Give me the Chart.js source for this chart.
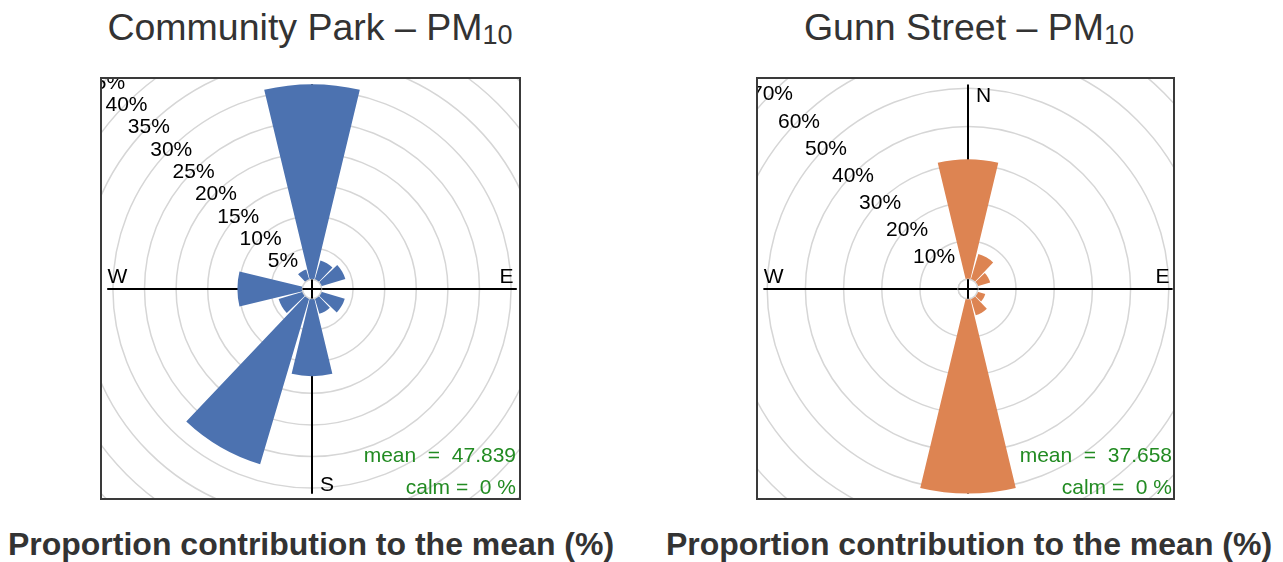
<!DOCTYPE html>
<html><head><meta charset="utf-8">
<script src="https://cdn.jsdelivr.net/npm/chart.js@4.4.1/dist/chart.umd.min.js"></script>
<style>
html,body{margin:0;padding:0;background:#fff;}
body{width:1283px;height:562px;overflow:hidden;position:relative;font-family:"Liberation Sans",Arial,Helvetica,sans-serif;}
.title{position:absolute;top:9px;width:600px;text-align:center;font-size:37.5px;line-height:37px;color:#333;white-space:nowrap;}
.title sub{font-size:27px;vertical-align:baseline;position:relative;top:4px;}
.xlab{position:absolute;top:528px;width:660px;text-align:center;font-size:32px;line-height:32px;font-weight:bold;color:#333;white-space:nowrap;}
.box{position:absolute;top:77px;height:423px;box-sizing:border-box;border:2px solid #3a3a3a;overflow:hidden;background:#fff;}
.box canvas{position:absolute;}
</style></head>
<body>
<div class="title" style="left:10px">Community Park – PM<sub>10</sub></div>
<div class="title" style="left:669px">Gunn Street – PM<sub>10</sub></div>
<div class="box" style="left:100px;width:421px"><canvas id="park" width="600" height="600"></canvas></div>
<div class="box" style="left:756px;width:419px"><canvas id="gunn" width="600" height="600"></canvas></div>
<div class="xlab" style="left:-19px">Proportion contribution to the mean (%)</div>
<div class="xlab" style="left:639px">Proportion contribution to the mean (%)</div>
<script>
// ---- data ----
const directions = [0, 30, 60, 90, 120, 150, 180, 210, 240, 270, 300, 330];
const parkValues = [30.9, 3.2, 4.0, 0, 3.9, 2.6, 12.3, 27.4, 4.0, 10.3, 0, 1.7];
const gunnValues = [31.4, 7.0, 3.5, 0, 2.15, 4.6, 51.0, 0, 0, 0, 0, 0];
const parkTicks = [5, 10, 15, 20, 25, 30, 35, 40, 45];
const gunnTicks = [10, 20, 30, 40, 50, 60, 70];
const parkMean = "47.839";
const gunnMean = "37.658";
const parkCalm = "0";
const gunnCalm = "0";
const compass = ["N", "E", "S", "W"];

// ---- style ----
const SIZE = 600;
const WEDGE = 27, GAP = 3;
const FONT = '"Liberation Sans", Arial, Helvetica, sans-serif';

const rosePlugin = {
  id: 'rose',
  beforeDatasetsDraw(chart, args, o) {
    const s = chart.scales.r, ctx = chart.ctx;
    const cx = s.xCenter, cy = s.yCenter;
    const L = s.getDistanceFromCenterForValue(o.axisMax);
    ctx.save();
    ctx.strokeStyle = '#000'; ctx.lineWidth = 2;
    ctx.beginPath();
    ctx.moveTo(cx - L, cy); ctx.lineTo(cx + L, cy);
    ctx.moveTo(cx, cy - L); ctx.lineTo(cx, cy + L);
    ctx.stroke();
    ctx.fillStyle = '#000';
    ctx.font = '21px ' + FONT;
    const R = L * 0.95;
    ctx.textBaseline = 'alphabetic';
    ctx.textAlign = 'left';
    ctx.fillText(compass[0], cx + 8, cy - R + 7.5);
    ctx.fillText(compass[2], cx + 8, cy + R + 7.5);
    ctx.textAlign = 'center';
    ctx.fillText(compass[1], cx + R, cy - 6);
    ctx.fillText(compass[3], cx - R, cy - 6);
    ctx.restore();
  },
  afterDatasetsDraw(chart, args, o) {
    const s = chart.scales.r, ctx = chart.ctx;
    const cx = s.xCenter, cy = s.yCenter;
    const r0 = s.getDistanceFromCenterForValue(0);
    ctx.save();
    ctx.fillStyle = '#fff';
    ctx.beginPath(); ctx.arc(cx, cy, r0, 0, Math.PI * 2); ctx.fill();
    ctx.strokeStyle = '#d6d6d6'; ctx.lineWidth = 1.5;
    ctx.beginPath(); ctx.arc(cx, cy, r0, 0, Math.PI * 2); ctx.stroke();
    ctx.strokeStyle = '#000'; ctx.lineWidth = 2;
    ctx.beginPath();
    ctx.moveTo(cx - r0, cy); ctx.lineTo(cx + r0, cy);
    ctx.moveTo(cx, cy - r0); ctx.lineTo(cx, cy + r0);
    ctx.stroke();
    // tick labels on the NW diagonal
    ctx.fillStyle = '#000';
    ctx.font = '21px ' + FONT;
    ctx.textAlign = 'center';
    ctx.textBaseline = 'alphabetic';
    o.ticks.forEach(v => {
      const d = s.getDistanceFromCenterForValue(v) / Math.SQRT2;
      ctx.fillText(v + '%', cx - d, cy - d + 7.5);
    });
    // mean / calm
    ctx.fillStyle = '#228B22';
    ctx.font = '21px ' + FONT;
    ctx.textAlign = 'right';
    ctx.fillText('mean  =  ' + o.mean, cx + 204, cy + 173);
    ctx.fillText('calm =  ' + o.calm + ' %', cx + 204, cy + 205);
    ctx.restore();
  }
};

function makeRose(id, values, ticks, mean, calm, color, hole, ppu) {
  const labels = [], data = [], angles = [], colors = [];
  directions.forEach((d, i) => {
    labels.push(String(d)); data.push(values[i]); angles.push(WEDGE); colors.push(color);
    labels.push(''); data.push(0); angles.push(GAP); colors.push('rgba(0,0,0,0)');
  });
  const min = -hole / ppu;
  const max = min + (SIZE / 2) / ppu;
  const gridVals = [0].concat(ticks);
  new Chart(document.getElementById(id), {
    type: 'polarArea',
    data: { labels, datasets: [{ data, angle: angles, backgroundColor: colors, borderWidth: 0 }] },
    options: {
      responsive: false,
      animation: false,
      events: [],
      layout: { padding: 0 },
      plugins: {
        legend: { display: false },
        tooltip: { enabled: false },
        rose: { axisMax: Math.max(...values), ticks, mean, calm }
      },
      scales: {
        r: {
          min, max,
          startAngle: -WEDGE / 2,
          ticks: { display: false },
          afterBuildTicks: (sc) => { sc.ticks = gridVals.map(v => ({ value: v })); },
          grid: { circular: true, color: '#d6d6d6', lineWidth: 1.5 },
          angleLines: { display: false },
          pointLabels: { display: false }
        }
      }
    },
    plugins: [rosePlugin]
  });
}

function place(id, cx, cy, boxLeft) {
  const c = document.getElementById(id);
  c.style.left = (cx - SIZE / 2 - boxLeft - 2) + 'px';
  c.style.top = (cy - SIZE / 2 - 77 - 2) + 'px';
}
place('park', 312, 289, 100);
place('gunn', 968, 289, 756);
makeRose('park', parkValues, parkTicks, parkMean, parkCalm, '#4C72B0', 9.5, 6.32);
makeRose('gunn', gunnValues, gunnTicks, gunnMean, gunnCalm, '#DD8452', 9.8, 3.82);
</script>
</body></html>
